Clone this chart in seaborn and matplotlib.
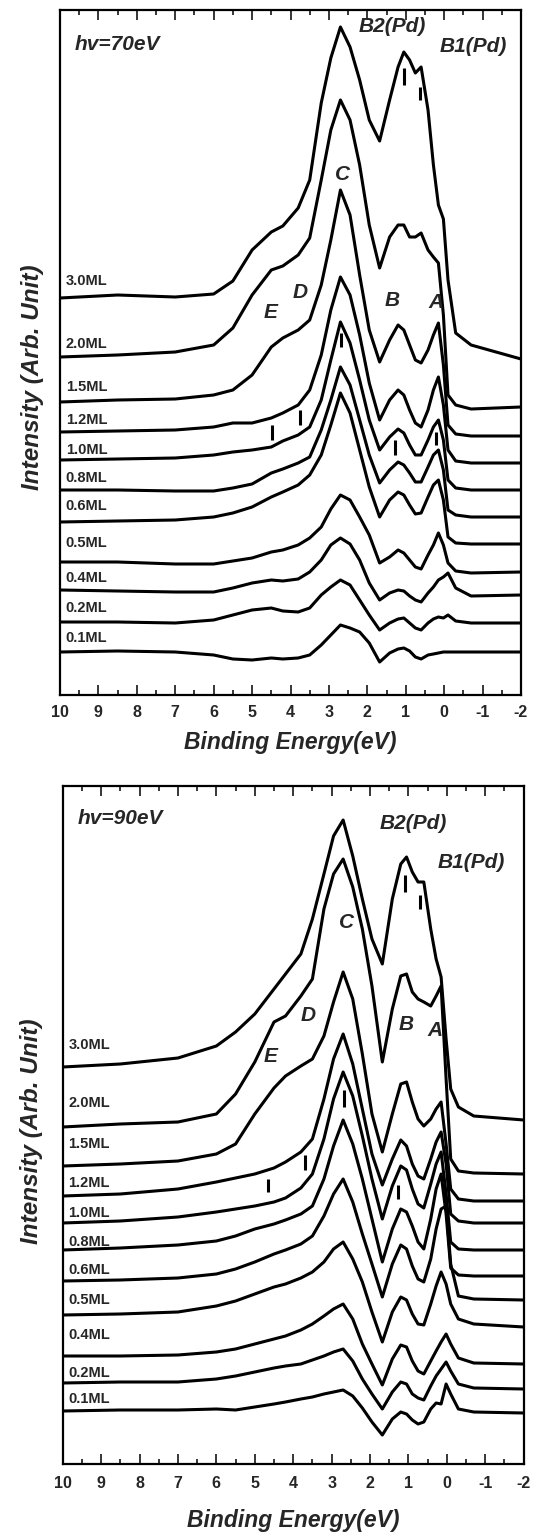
import matplotlib
matplotlib.use('Agg')
import matplotlib.pyplot as plt
from matplotlib.ticker import MultipleLocator
import numpy as np
import pandas as pd
import seaborn as sns

################################### data ###################################

# binding energy grid (eV) shared by every spectrum
energy = [10, 8.5, 7, 6, 5.5, 5, 4.5, 4.2, 3.8, 3.5, 3.2, 2.95, 2.7, 2.45, 2.2, 1.95,
          1.68, 1.42, 1.2, 1.05, 0.9, 0.75, 0.6, 0.42, 0.28, 0.15, 0.02, -0.1, -0.3, -0.7, -2]

coverages = ['3.0ML', '2.0ML', '1.5ML', '1.2ML', '1.0ML', '0.8ML',
             '0.6ML', '0.5ML', '0.4ML', '0.2ML', '0.1ML']

# hv = 70 eV, stacked intensities (arb. units)
i70_30 = [397, 400, 398, 401, 414, 445, 463, 469, 487, 515, 592, 637, 668, 648, 615, 575,
          554, 595, 628, 643, 635, 622, 628, 585, 530, 490, 476, 415, 362, 350, 336]
i70_20 = [338, 340, 343, 350, 367, 400, 425, 429, 440, 457, 515, 565, 595, 575, 530, 470,
          427, 458, 470, 470, 458, 458, 462, 445, 438, 432, 380, 300, 290, 286, 288]
i70_15 = [293, 295, 296, 300, 305, 320, 348, 357, 365, 375, 410, 455, 505, 480, 420, 365,
          333, 355, 370, 365, 350, 335, 332, 345, 360, 372, 330, 270, 261, 259, 259]
i70_12 = [263, 264, 265, 268, 272, 272, 277, 282, 290, 305, 340, 385, 418, 400, 360, 312,
          275, 295, 305, 300, 285, 272, 268, 285, 305, 318, 290, 245, 234, 232, 232]
i70_10 = [235, 236, 237, 240, 243, 245, 248, 254, 260, 268, 295, 335, 373, 352, 315, 275,
          245, 258, 266, 262, 250, 240, 240, 255, 268, 275, 255, 215, 207, 205, 205]
i70_08 = [205, 205, 204, 204, 207, 211, 222, 226, 232, 238, 265, 295, 328, 310, 275, 240,
          212, 225, 233, 230, 222, 213, 213, 228, 240, 245, 225, 185, 180, 178, 178]
i70_06 = [173, 174, 175, 178, 182, 188, 198, 203, 210, 220, 240, 270, 302, 282, 245, 208,
          178, 195, 203, 200, 190, 181, 182, 198, 210, 215, 195, 158, 152, 151, 151]
i70_05 = [133, 133, 131, 131, 134, 137, 143, 145, 150, 157, 168, 186, 200, 195, 178, 160,
          132, 138, 145, 142, 135, 128, 126, 140, 150, 162, 150, 132, 124, 122, 123]
i70_04 = [105, 104, 103, 103, 107, 112, 115, 114, 116, 123, 135, 150, 157, 151, 135, 112,
          95, 102, 105, 104, 99, 95, 93, 102, 108, 115, 118, 122, 107, 99, 100]
i70_02 = [73, 73, 72, 75, 80, 85, 87, 84, 83, 87, 100, 108, 115, 110, 95, 80,
          65, 72, 76, 77, 72, 67, 65, 72, 76, 78, 77, 80, 74, 72, 72]
i70_01 = [43, 44, 43, 40, 36, 35, 37, 36, 37, 40, 50, 60, 70, 67, 63, 52,
          33, 42, 46, 47, 44, 38, 36, 40, 41, 42, 43, 43, 43, 43, 43]

# hv = 90 eV
i90_30 = [397, 400, 406, 418, 432, 450, 475, 490, 510, 545, 590, 628, 644, 608, 565, 525,
          500, 565, 600, 607, 592, 582, 582, 535, 505, 487, 425, 375, 357, 348, 344]
i90_20 = [337, 340, 342, 350, 370, 402, 442, 448, 468, 485, 555, 590, 605, 577, 535, 478,
          402, 455, 488, 490, 472, 465, 462, 458, 468, 478, 385, 305, 293, 291, 290]
i90_15 = [298, 300, 303, 310, 320, 350, 376, 388, 398, 405, 428, 462, 492, 465, 410, 350,
          312, 350, 380, 382, 362, 345, 338, 345, 355, 362, 320, 275, 265, 263, 263]
i90_12 = [268, 270, 275, 282, 286, 290, 296, 302, 312, 325, 365, 405, 430, 400, 355, 310,
          279, 305, 324, 318, 300, 288, 285, 305, 322, 332, 300, 250, 243, 241, 241]
i90_10 = [241, 243, 247, 252, 255, 258, 262, 266, 276, 290, 325, 365, 392, 368, 328, 285,
          245, 278, 298, 294, 275, 260, 256, 280, 300, 312, 270, 222, 215, 214, 214]
i90_08 = [214, 216, 219, 223, 228, 235, 240, 244, 250, 258, 285, 318, 344, 320, 285, 245,
          202, 235, 255, 252, 238, 222, 215, 245, 275, 290, 250, 196, 189, 188, 188]
i90_06 = [183, 184, 186, 190, 195, 202, 210, 214, 220, 228, 248, 270, 285, 262, 230, 200,
          167, 200, 219, 215, 198, 185, 182, 205, 235, 255, 258, 200, 168, 165, 164]
i90_05 = [149, 150, 152, 158, 163, 170, 177, 180, 186, 192, 202, 215, 222, 205, 182, 152,
          122, 152, 167, 164, 150, 140, 139, 160, 178, 192, 180, 160, 145, 140, 137]
i90_04 = [108, 108, 109, 112, 115, 120, 125, 128, 134, 140, 148, 155, 160, 145, 120, 100,
          79, 105, 119, 117, 103, 93, 90, 103, 113, 122, 130, 120, 106, 101, 100]
i90_02 = [81, 82, 82, 85, 88, 92, 96, 98, 100, 104, 108, 112, 115, 103, 85, 70,
          55, 72, 82, 80, 70, 66, 64, 78, 88, 95, 102, 93, 80, 76, 75]
i90_01 = [53, 54, 54, 55, 54, 57, 60, 62, 65, 67, 70, 72, 74, 68, 56, 42,
          29, 45, 52, 50, 44, 40, 42, 55, 61, 60, 80, 70, 55, 52, 51]

# coverage label heights
ml_y_70 = [414, 351, 308, 275, 245, 217, 189, 152, 117, 87, 57]
ml_y_90 = [419, 361, 320, 281, 251, 222, 194, 164, 129, 91, 65]

# peak names: (text, energy, height)
peaks_70 = [('B2(Pd)', 1.34, 668), ('B1(Pd)', -0.77, 648), ('C', 2.64, 520),
            ('D', 3.74, 403), ('E', 4.52, 382), ('B', 1.35, 395), ('A', 0.22, 393)]
peaks_90 = [('B2(Pd)', 0.87, 641), ('B1(Pd)', -0.63, 602), ('C', 2.6, 542),
            ('D', 3.6, 449), ('E', 4.6, 407), ('B', 1.06, 439), ('A', 0.3, 434)]

# little vertical bars marking features
mk70_E = [1.04, 0.63, 4.49, 3.76, 2.69, 1.29, 0.22]
mk70_lo = [610, 595, 255, 270, 348, 240, 250]
mk70_hi = [627, 608, 270, 285, 362, 255, 263]
mk90_E = [1.09, 0.70, 4.65, 3.69, 2.69, 1.26]
mk90_lo = [572, 555, 272, 294, 357, 265]
mk90_hi = [589, 569, 285, 309, 374, 279]

################################### plotting ###################################

sns.set_theme(style='ticks')
plt.rcParams['font.family'] = ['Liberation Sans', 'DejaVu Sans']
plt.rcParams['axes.unicode_minus'] = False

fig = plt.figure(figsize=(5.37, 15.35), dpi=100)
ax_top = fig.add_axes([60 / 537, 1 - 695 / 1535, 461 / 537, 685 / 1535])
ax_bot = fig.add_axes([62.7 / 537, 1 - 1464 / 1535, 461 / 537, 678 / 1535])


def draw_panel(ax, spectra, ml_y, peaks, hv, hv_y, mk_E, mk_lo, mk_hi, ytop, tickpad, ylab_xy, xlab_y):
    df = pd.DataFrame({'E': np.tile(energy, len(spectra)),
                       'I': np.concatenate(spectra),
                       'cov': np.repeat(coverages, len(energy))})
    sns.lineplot(data=df, x='E', y='I', units='cov', estimator=None, sort=False,
                 color='black', lw=2.2, ax=ax, legend=False)
    ax.vlines(mk_E, mk_lo, mk_hi, color='black', lw=2.2)

    for lab, y in zip(coverages, ml_y):
        ax.text(9.85, y, lab, fontsize=10.5, fontweight='bold', ha='left', va='center')
    for txt, e, y in peaks:
        ax.text(e, y, txt, fontsize=15, fontweight='bold', fontstyle='italic',
                ha='center', va='center')
    ax.text(9.62, hv_y, hv, fontsize=15, fontweight='bold', fontstyle='italic',
            ha='left', va='center')

    ax.set_xlim(10, -2)
    ax.set_ylim(0, ytop)
    ax.set_xticks(range(-2, 11))
    ax.xaxis.set_minor_locator(MultipleLocator(0.5))
    ax.set_yticks([])
    ax.tick_params(axis='x', which='both', direction='in', top=True, bottom=True,
                   width=1.3, labelsize=11.5, pad=tickpad)
    ax.tick_params(axis='x', which='major', length=7)
    ax.tick_params(axis='x', which='minor', length=3.5)
    for lbl in ax.get_xticklabels():
        lbl.set_fontweight('bold')
    for sp in ax.spines.values():
        sp.set_linewidth(1.6)
        sp.set_color('black')

    ax.set_xlabel('Binding Energy(eV)', fontsize=16.5, fontweight='bold', fontstyle='italic')
    ax.set_ylabel('Intensity (Arb. Unit)', fontsize=17.5, fontweight='bold', fontstyle='italic')
    ax.xaxis.set_label_coords(0.5, xlab_y)
    ax.yaxis.set_label_coords(*ylab_xy)


draw_panel(ax_top, [i70_30, i70_20, i70_15, i70_12, i70_10, i70_08,
                    i70_06, i70_05, i70_04, i70_02, i70_01],
           ml_y_70, peaks_70, 'hv=70eV', 651, mk70_E, mk70_lo, mk70_hi,
           685, 7.5, (-0.035, 0.464), -0.053)

draw_panel(ax_bot, [i90_30, i90_20, i90_15, i90_12, i90_10, i90_08,
                    i90_06, i90_05, i90_04, i90_02, i90_01],
           ml_y_90, peaks_90, 'hv=90eV', 646, mk90_E, mk90_lo, mk90_hi,
           678, 8.5, (-0.043, 0.491), -0.066)

fig.savefig('out.png', dpi=100)
